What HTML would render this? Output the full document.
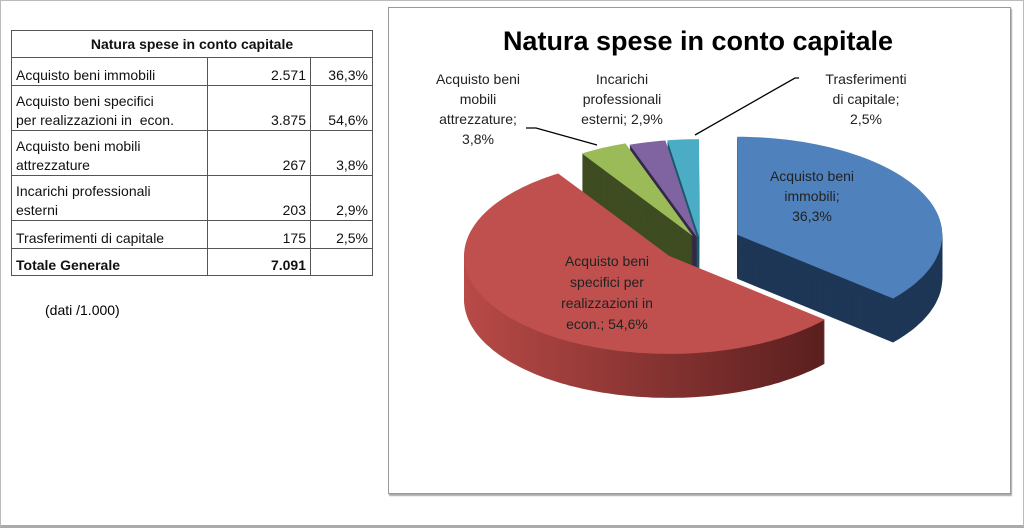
<!DOCTYPE html>
<html><head><meta charset="utf-8">
<style>
body{margin:0;width:1024px;height:529px;background:#fff;font-family:"Liberation Sans",sans-serif;position:relative;overflow:hidden}
#page-border{position:absolute;left:0;top:0;width:1022px;height:524px;border:1px solid #bbb;border-bottom:3px solid #aaa}
table{position:absolute;left:11px;top:30px;border-collapse:collapse;font-size:14px;color:#111}
td{border:1px solid #555;padding:0 4px;vertical-align:bottom;line-height:19px}
td.n{text-align:right}
#note{position:absolute;left:45px;top:302px;font-size:14px}
#chart{position:absolute;left:388px;top:7px;width:621px;height:485px;border:1px solid #999;box-shadow:1px 2px 1px #aaa}
</style></head><body>
<div id="page-border"></div>
<table>
<tr style="height:27px"><td colspan="3" style="text-align:center;font-weight:bold;vertical-align:middle">Natura spese in conto capitale</td></tr>
<tr style="height:28px"><td style="width:187px">Acquisto beni immobili</td><td class="n" style="width:94px">2.571</td><td class="n" style="width:53px">36,3%</td></tr>
<tr style="height:45px"><td>Acquisto beni specifici<br>per realizzazioni in&nbsp; econ.</td><td class="n">3.875</td><td class="n">54,6%</td></tr>
<tr style="height:45px"><td>Acquisto beni mobili<br>attrezzature</td><td class="n">267</td><td class="n">3,8%</td></tr>
<tr style="height:45px"><td>Incarichi professionali<br>esterni</td><td class="n">203</td><td class="n">2,9%</td></tr>
<tr style="height:28px"><td>Trasferimenti di capitale</td><td class="n">175</td><td class="n">2,5%</td></tr>
<tr style="height:27px;font-weight:bold"><td>Totale Generale</td><td class="n">7.091</td><td></td></tr>
</table>
<div id="note">(dati /1.000)</div>
<div id="chart"></div>
<svg id="svg" width="1024" height="529" style="position:absolute;left:0;top:0">
<defs>
<linearGradient id="redSide" x1="0" x2="1" y1="0" y2="0"><stop offset="0" stop-color="#b84a47"/><stop offset="1" stop-color="#5a1f1e"/></linearGradient>
</defs>
<text x="698" y="50" text-anchor="middle" font-size="27" font-weight="bold" fill="#000">Natura spese in conto capitale</text>
<g id="pie"></g>
<g font-size="14" fill="#222" text-anchor="middle">
<text><tspan x="478" y="84">Acquisto beni</tspan><tspan x="478" y="104">mobili</tspan><tspan x="478" y="124">attrezzature;</tspan><tspan x="478" y="144">3,8%</tspan></text>
<text><tspan x="622" y="84">Incarichi</tspan><tspan x="622" y="104">professionali</tspan><tspan x="622" y="124">esterni; 2,9%</tspan></text>
<text><tspan x="866" y="84">Trasferimenti</tspan><tspan x="866" y="104">di capitale;</tspan><tspan x="866" y="124">2,5%</tspan></text>
<text><tspan x="812" y="181">Acquisto beni</tspan><tspan x="812" y="201">immobili;</tspan><tspan x="812" y="221">36,3%</tspan></text>
<text><tspan x="607" y="266">Acquisto beni</tspan><tspan x="607" y="287">specifici per</tspan><tspan x="607" y="308">realizzazioni in</tspan><tspan x="607" y="329">econ.; 54,6%</tspan></text>
</g>
<g stroke="#000" stroke-width="1.3" fill="none">
<polyline points="526,128 536,128 597,145"/>
<polyline points="799,78 795,78 695,135"/>
</g>
</svg>
<script>
const categories=["Acquisto beni immobili","Acquisto beni specifici per realizzazioni in econ.","Acquisto beni mobili attrezzature","Incarichi professionali esterni","Trasferimenti di capitale"];
const values=[2571,3875,267,203,175];
const topColors=["#4f81bd","#c0504d","#9bbb59","#8064a2","#4bacc6"];
const sideColors=["#1f3756","url(#redSide)","#3f4c22","#34284a","#1d5a68"];
const explode=[0.2,0.2,0.08,0.06,0.06];
const cx=700,cy=243,rx=205,ry=98,depth=44;
const total=values.reduce((a,b)=>a+b,0);
const NS="http://www.w3.org/2000/svg";
const g=document.getElementById('pie');
let acc=0;const slices=[];
values.forEach((v,i)=>{const a0=acc/total*2*Math.PI;acc+=v;const a1=acc/total*2*Math.PI;slices.push({i,a0,a1});});
function pt(ox,oy,a){return [ox+rx*Math.sin(a),oy-ry*Math.cos(a)];}
function slicePath(s,ox,oy){
  let d=`M${ox},${oy}`;const n=Math.max(4,Math.ceil((s.a1-s.a0)*40));
  for(let k=0;k<=n;k++){const p=pt(ox,oy,s.a0+(s.a1-s.a0)*k/n);d+=`L${p[0].toFixed(1)},${p[1].toFixed(1)}`;}
  return d+'Z';
}
const order=[4,3,2,0,1];
order.forEach(i=>{
  const s=slices[i];const m=(s.a0+s.a1)/2;
  const ox=cx+explode[i]*rx*Math.sin(m), oy=cy-explode[i]*ry*Math.cos(m);
  const grp=document.createElementNS(NS,'g');
  
  
  for(let d=depth;d>0;d-=1){
    const p=document.createElementNS(NS,'path');
    p.setAttribute('d',slicePath(s,ox,oy+d));
    p.setAttribute('fill',sideColors[i]);
    grp.appendChild(p);
  }
  const t=document.createElementNS(NS,'path');
  
  
  t.setAttribute('d',slicePath(s,ox,oy));
  t.setAttribute('fill',topColors[i]);
  grp.appendChild(t);
  g.appendChild(grp);
});
</script>
</body></html>
